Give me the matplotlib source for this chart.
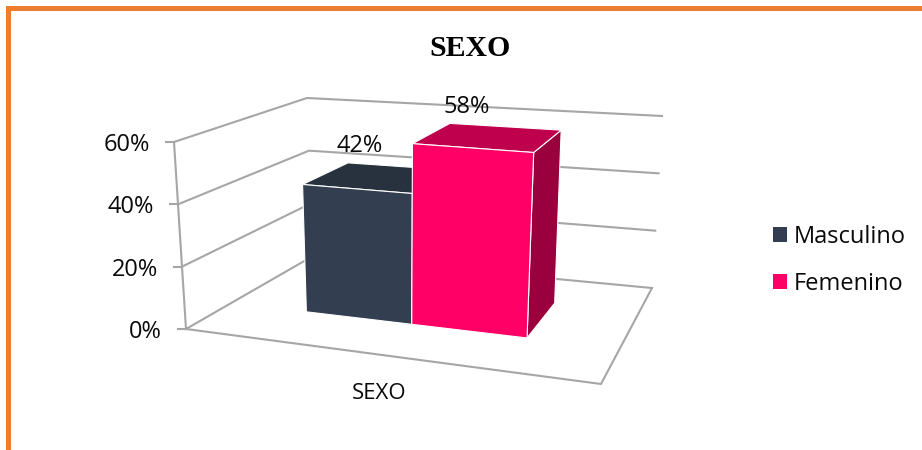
#!/usr/bin/env python3
"""Excel style 3D column chart, drawn with a small floor homography."""
import matplotlib
matplotlib.use("Agg")
import matplotlib.pyplot as plt
from matplotlib.patches import Patch, Polygon, Rectangle
import numpy as np

categories = ["SEXO"]
series_names = ["Masculino", "Femenino"]
series_values = [42, 58]
value_ticks = [0, 20, 40, 60]
title = "SEXO"

FRONT_COLORS = ["#333f50", "#ff0066"]
TOP_COLORS = ["#28323f", "#bf004c"]
SIDE_COLORS = ["#1f2733", "#99003d"]
GRID = "#a6a6a6"
ORANGE = "#ed7d31"
TEXT = "#0a0a0a"

plt.rcParams["font.family"] = ["Open Sans", "DejaVu Sans"]

# Floor corners in pixels: front left, front right, back right, back left.
FLOOR = np.array([[186, 329], [601, 384], [652, 288], [313, 256]], dtype=float)
# Screen vector of one full axis height (60%) at the same corners.
RISE = np.array([[-12, -187], [12, -206], [10, -172], [-6, -158]], dtype=float)
VMAX = value_ticks[-1]

BAR_W = 0.285
BAR_START = 0.219
DEPTH_FRONT = 0.308
DEPTH_BACK = 0.70


def make_homography(corners):
    src = [(0, 0), (1, 0), (1, 1), (0, 1)]
    rows, rhs = [], []
    for (u, d), (x, y) in zip(src, corners):
        rows.append([u, d, 1, 0, 0, 0, -u * x, -d * x])
        rows.append([0, 0, 0, u, d, 1, -u * y, -d * y])
        rhs += [x, y]
    return np.append(np.linalg.solve(np.array(rows), np.array(rhs)), 1).reshape(3, 3)


H = make_homography(FLOOR)


def proj(u, d, v):
    """u across the floor, d into the depth, v in chart value units."""
    p = H @ np.array([u, d, 1.0])
    floor = p[:2] / p[2]
    rise = ((1 - d) * ((1 - u) * RISE[0] + u * RISE[1])
            + d * ((1 - u) * RISE[3] + u * RISE[2]))
    return floor + rise * v / VMAX


fig = plt.figure(figsize=(9.22, 4.5), dpi=100)
ax = fig.add_axes([0, 0, 1, 1])
ax.set_xlim(0, 922)
ax.set_ylim(450, 0)
ax.axis("off")

# Slide frame.
ax.add_patch(Rectangle((6, 6), 916, 4.5, color=ORANGE, lw=0))
ax.add_patch(Rectangle((6, 6), 4.5, 444, color=ORANGE, lw=0))

ax.text(470, 49, title, family="Liberation Serif", fontweight="bold", fontsize=21.5,
        color="black", ha="center", va="center")

# Walls and floor.
for tick in value_ticks:
    pts = np.array([proj(0, 0, tick), proj(0, 1, tick), proj(1, 1, tick)])
    ax.plot(pts[:, 0], pts[:, 1], color=GRID, lw=1.5, zorder=1)
    x, y = proj(0, 0, tick)
    ax.plot([x - 8, x], [y, y], color=GRID, lw=1.5, zorder=1)
    ax.text(x - 24, y + 3, f"{tick}%", fontsize=17, color=TEXT, ha="right", va="center")

edge = np.array([proj(0, 0, 0), proj(1, 0, 0), proj(1, 1, 0)])
ax.plot(edge[:, 0], edge[:, 1], color=GRID, lw=1.5, zorder=1)
wall = np.array([proj(0, 0, 0), proj(0, 0, VMAX)])
ax.plot(wall[:, 0], wall[:, 1], color=GRID, lw=1.5, zorder=1)

# Columns, left to right so the later one sits on top.
for i, value in enumerate(series_values):
    u0 = BAR_START + i * BAR_W
    u1 = u0 + BAR_W
    d0, d1 = DEPTH_FRONT, DEPTH_BACK
    z = 2 + i
    front = [proj(u0, d0, 0), proj(u1, d0, 0), proj(u1, d0, value), proj(u0, d0, value)]
    top = [proj(u0, d0, value), proj(u1, d0, value), proj(u1, d1, value), proj(u0, d1, value)]
    side = [proj(u1, d0, 0), proj(u1, d1, 0), proj(u1, d1, value), proj(u1, d0, value)]
    ax.add_patch(Polygon(side, fc=SIDE_COLORS[i], ec="white", lw=0.8, zorder=z))
    ax.add_patch(Polygon(top, fc=TOP_COLORS[i], ec="white", lw=0.8, zorder=z))
    ax.add_patch(Polygon(front, fc=FRONT_COLORS[i], ec="white", lw=0.8, zorder=z))
    lx, ly = proj((u0 + u1) / 2, d1, value)
    ax.text(lx - 38, ly - 20, f"{value}%", fontsize=17, color=TEXT, ha="center", va="center", zorder=6)

cx, cy = proj(0.5, 0, 0)
ax.text(cx + 3, cy + 39, categories[0], fontsize=16, color=TEXT, ha="center", va="center")

handles = [Patch(fc=c, ec="none", label=n) for c, n in zip(FRONT_COLORS, series_names)]
ax.legend(handles=handles, loc="center left", bbox_to_anchor=(773, 260.5),
          bbox_transform=ax.transData, frameon=False, fontsize=17, borderpad=0, borderaxespad=0,
          handlelength=0.59, handleheight=0.59, handletextpad=0.3, labelspacing=0.97,
          labelcolor=TEXT)

fig.savefig("out.png", dpi=100)
plt.close(fig)
